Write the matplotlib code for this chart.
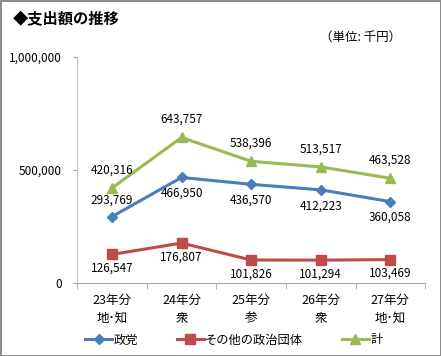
import matplotlib
matplotlib.use("Agg")
import matplotlib.pyplot as plt
from matplotlib.ticker import FuncFormatter, FixedLocator
import numpy as np

plt.rcParams['font.family'] = ['Noto Sans CJK JP', 'DejaVu Sans']

# データ (単位: 千円)
categories = ['23年分\n地･知', '24年分\n衆', '25年分\n参', '26年分\n衆', '27年分\n地･知']
seito = [293769, 466950, 436570, 412223, 360058]
sonota = [126547, 176807, 101826, 101294, 103469]
kei = [420316, 643757, 538396, 513517, 463528]
series_names = ['政党', 'その他の政治団体', '計']

blue = '#4a7ebb'
red = '#be4b48'
green = '#98b954'

fig = plt.figure(figsize=(4.41, 3.56), dpi=100)
fig.patch.set_edgecolor('#8c8c8c')
fig.patch.set_linewidth(2)
ax = fig.add_axes([0.175, 0.205, 0.789, 0.635])

x = np.arange(len(categories))
l1, = ax.plot(x, seito, '-D', color=blue, lw=2.2, ms=5.5, label=series_names[0])
l2, = ax.plot(x, sonota, '-s', color=red, lw=2.2, ms=7, label=series_names[1])
l3, = ax.plot(x, kei, '-^', color=green, lw=2.2, ms=7, label=series_names[2])

fs = 8.5
for i, v in enumerate(kei):
    ax.annotate(f'{v:,}', (i, v), xytext=(0, 13), textcoords='offset points',
                ha='center', va='center', fontsize=fs)
for i, v in enumerate(seito):
    dy = 11.5 if i == 0 else -11.5
    ax.annotate(f'{v:,}', (i, v), xytext=(0, dy), textcoords='offset points',
                ha='center', va='center', fontsize=fs)
for i, v in enumerate(sonota):
    ax.annotate(f'{v:,}', (i, v), xytext=(0, -10), textcoords='offset points',
                ha='center', va='center', fontsize=fs)

ax.set_xlim(-0.5, len(categories) - 0.5)
ax.set_ylim(0, 1000000)
ax.set_yticks([0, 500000, 1000000])
ax.yaxis.set_major_formatter(FuncFormatter(lambda v, p: f'{int(v):,}'))
ax.set_xticks(x)
ax.set_xticklabels(categories, fontsize=9, linespacing=1.5)
ax.xaxis.set_minor_locator(FixedLocator(np.arange(-0.5, len(categories), 1.0)))
ax.tick_params(axis='x', which='major', length=0, pad=8)
ax.tick_params(axis='x', which='minor', length=4, color='#a6a6a6')
ax.tick_params(axis='y', length=3, color='#a6a6a6', labelsize=fs, pad=8)

for s in ['top', 'right']:
    ax.spines[s].set_visible(False)
ax.spines['left'].set_color('#bfbfbf')
ax.spines['bottom'].set_color('#a6a6a6')

fig.text(0.03, 0.945, '◆支出額の推移', fontsize=11, fontweight='bold', va='center')
fig.text(0.91, 0.895, '（単位: 千円）', fontsize=9, va='center', ha='right')

fig.legend(handles=[l1, l2, l3], loc='center', bbox_to_anchor=(0.53, 0.045),
           ncol=3, frameon=False, fontsize=8.8, handlelength=2.2,
           handletextpad=0.1, columnspacing=3.2)

fig.savefig('out.png', dpi=100)
